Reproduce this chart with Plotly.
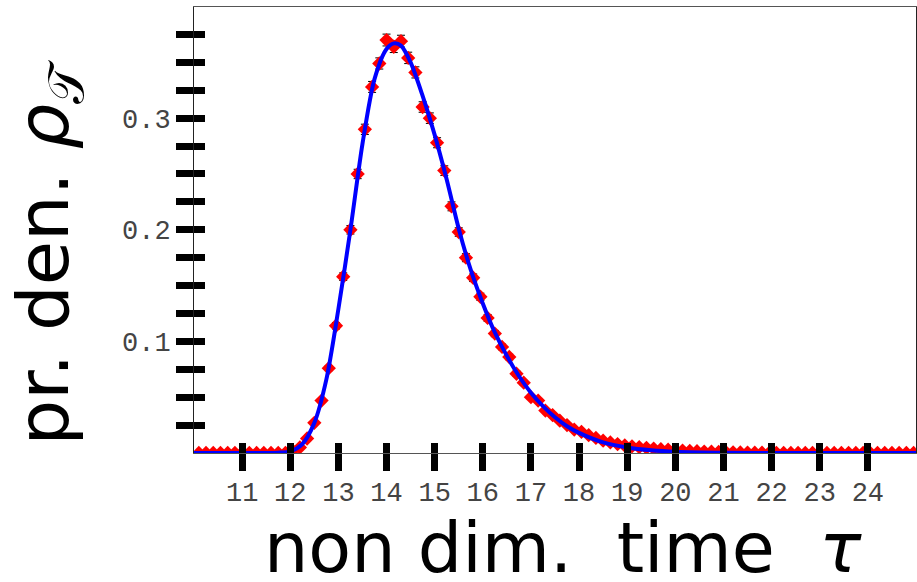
import plotly.graph_objects as go

# ---------------- data ----------------
tau = [10.1, 10.25, 10.4, 10.55, 10.7, 10.85, 11.0, 11.15, 11.3, 11.45,
       11.6, 11.75, 11.9, 12.05, 12.2, 12.35, 12.5, 12.65, 12.8, 12.95,
       13.1, 13.25, 13.4, 13.55, 13.7, 13.85, 14.0, 14.15, 14.3, 14.45,
       14.6, 14.75, 14.9, 15.05, 15.2, 15.35, 15.5, 15.65, 15.8, 15.95,
       16.1, 16.25, 16.4, 16.55, 16.7, 16.85, 17.0, 17.15, 17.3, 17.45,
       17.6, 17.75, 17.9, 18.05, 18.2, 18.35, 18.5, 18.65, 18.8, 18.95,
       19.1, 19.25, 19.4, 19.55, 19.7, 19.85, 20.0, 20.15, 20.3, 20.45,
       20.6, 20.75, 20.9, 21.05, 21.2, 21.35, 21.5, 21.65, 21.8, 21.95,
       22.1, 22.25, 22.4, 22.55, 22.7, 22.85, 23.0, 23.15, 23.3, 23.45,
       23.6, 23.75, 23.9, 24.05, 24.2, 24.35, 24.5, 24.65, 24.8, 24.95]

density = [0.0, 0.0, 0.0, 0.0, 0.0, 0.0, 0.0, 0.0, 0.0, 0.0,
           0.0, 0.0, 0.0, 0.002, 0.005, 0.013, 0.027, 0.047, 0.076, 0.114,
           0.158, 0.200, 0.250, 0.290, 0.328, 0.349, 0.370, 0.364, 0.369, 0.354,
           0.341, 0.310, 0.300, 0.278, 0.253, 0.221, 0.198, 0.175, 0.157, 0.140,
           0.121, 0.107, 0.095, 0.086, 0.071, 0.063, 0.050, 0.047, 0.038, 0.034,
           0.029, 0.025, 0.021, 0.019, 0.016, 0.0135, 0.011, 0.0095, 0.008, 0.0067,
           0.006, 0.0052, 0.0046, 0.004, 0.0034, 0.003, 0.0026, 0.0022, 0.0019, 0.0016,
           0.0013, 0.0011, 0.0009, 0.0008, 0.0006, 0.0005, 0.0004, 0.0003, 0.0003, 0.0002,
           0.0002, 0.0001, 0.0001, 0.0001, 0.0001, 0.0, 0.0, 0.0, 0.0, 0.0,
           0.0, 0.0, 0.0, 0.0, 0.0, 0.0, 0.0, 0.0, 0.0, 0.0]

density_err = [0.0, 0.0, 0.0, 0.0, 0.0, 0.0, 0.0, 0.0, 0.0, 0.0,
               0.0, 0.0, 0.0, 0.0004, 0.0006, 0.001, 0.0014, 0.0018, 0.0023, 0.0029,
               0.0034, 0.0038, 0.0042, 0.0046, 0.0049, 0.005, 0.0053, 0.0052, 0.0053, 0.0051,
               0.005, 0.0047, 0.0047, 0.0045, 0.0043, 0.004, 0.0038, 0.0036, 0.0034, 0.0032,
               0.003, 0.0028, 0.0026, 0.0025, 0.0023, 0.0021, 0.0019, 0.0018, 0.0017, 0.0016,
               0.0014, 0.0013, 0.0012, 0.0012, 0.0011, 0.001, 0.0009, 0.0008, 0.0008, 0.0007,
               0.0007, 0.0006, 0.0006, 0.0005, 0.0005, 0.0005, 0.0004, 0.0004, 0.0004, 0.0003,
               0.0003, 0.0003, 0.0003, 0.0002, 0.0002, 0.0002, 0.0002, 0.0001, 0.0001, 0.0001,
               0.0001, 0.0001, 0.0001, 0.0001, 0.0001, 0.0, 0.0, 0.0, 0.0, 0.0,
               0.0, 0.0, 0.0, 0.0, 0.0, 0.0, 0.0, 0.0, 0.0, 0.0]

fit_tau = [10.0, 11.0, 11.5, 11.75, 12.0, 12.25, 12.5, 12.75, 13.0, 13.25,
           13.5, 13.75, 14.0, 14.15, 14.3, 14.5, 14.75, 15.0, 15.25, 15.5,
           15.75, 16.0, 16.25, 16.5, 16.75, 17.0, 17.25, 17.5, 17.75, 18.0,
           18.5, 19.0, 19.5, 20.0, 21.0, 22.0, 25.0]
fit_density = [0.0, 0.0, 0.0, 0.0003, 0.0015, 0.008, 0.027, 0.066, 0.129, 0.200,
               0.277, 0.335, 0.362, 0.367, 0.365, 0.350, 0.320, 0.285, 0.245, 0.201,
               0.164, 0.134, 0.108, 0.087, 0.069, 0.054, 0.042, 0.032, 0.024, 0.018,
               0.0095, 0.005, 0.0025, 0.0012, 0.0003, 0.0, 0.0]

x_ticks = [11, 12, 13, 14, 15, 16, 17, 18, 19, 20, 21, 22, 23, 24]
y_label_ticks = [0.1, 0.2, 0.3]
y_ticks = [0.025, 0.05, 0.075, 0.1, 0.125, 0.15, 0.175, 0.2, 0.225, 0.25,
           0.275, 0.3, 0.325, 0.35, 0.375]

X_RANGE = [10, 25]
Y_RANGE = [0, 0.3996]

# ---------------- figure ----------------
fig = go.Figure()

fig.add_trace(go.Scatter(
    x=tau, y=density, mode="markers",
    marker=dict(symbol="diamond", size=11, color="#ff0000", line=dict(width=0)),
    error_y=dict(type="data", array=density_err, visible=True,
                 color="black", thickness=1, width=4),
    showlegend=False, hoverinfo="skip"))

fig.add_trace(go.Scatter(
    x=fit_tau, y=fit_density, mode="lines",
    line=dict(color="#0000ff", width=4, shape="spline", smoothing=0.8),
    showlegend=False, hoverinfo="skip"))

# empty traces so that the overlay axes (other halves of the ticks) are drawn
fig.add_trace(go.Scatter(x=[None], y=[None], xaxis="x2", yaxis="y2",
                         showlegend=False, hoverinfo="skip"))
fig.add_trace(go.Scatter(x=[None], y=[None], xaxis="x2", yaxis="y3",
                         showlegend=False, hoverinfo="skip"))

tickfont = dict(family="Liberation Mono", size=27, color="#444444")
tick_common = dict(tickwidth=7, tickcolor="black", showgrid=False, zeroline=False)

fig.update_layout(
    width=917, height=582,
    margin=dict(l=194, r=1, t=7, b=129),
    paper_bgcolor="white", plot_bgcolor="white",
    xaxis=dict(range=X_RANGE, tickvals=x_ticks, ticks="outside", ticklen=17,
               tickfont=tickfont, ticklabelstandoff=-2,
               showline=True, linecolor="#555555", linewidth=1, mirror=True,
               **tick_common),
    xaxis2=dict(range=X_RANGE, overlaying="x", anchor="y", side="bottom",
                tickvals=x_ticks, ticks="inside", ticklen=10,
                showticklabels=False, showline=False, **tick_common),
    yaxis=dict(range=Y_RANGE, tickvals=y_label_ticks,
               ticks="outside", ticklen=17, tickfont=tickfont,
               showline=True, linecolor="#222222", linewidth=1, mirror=True,
               **tick_common),
    yaxis2=dict(range=Y_RANGE, overlaying="y", anchor="x", side="left",
                tickvals=y_ticks, ticks="outside", ticklen=17,
                showticklabels=False, showline=False, **tick_common),
    yaxis3=dict(range=Y_RANGE, overlaying="y", anchor="x", side="left",
                tickvals=y_ticks, ticks="inside", ticklen=11,
                showticklabels=False, showline=False, **tick_common),
    annotations=[
        dict(text="non dim.\u00a0 time\u00a0 <i>τ</i>",
             xref="paper", yref="paper",
             x=0.511, y=-0.214, xanchor="center", yanchor="middle",
             showarrow=False,
             font=dict(family="DejaVu Sans", size=70, color="black")),
        dict(text="pr. den. <i>ρ</i><sub>𝒯</sub>", xref="paper", yref="paper",
             x=-0.202, y=0.45, xanchor="center", yanchor="middle",
             textangle=-90, showarrow=False,
             font=dict(family="DejaVu Sans", size=72, color="black")),
    ],
)

fig.write_html("out.html")
